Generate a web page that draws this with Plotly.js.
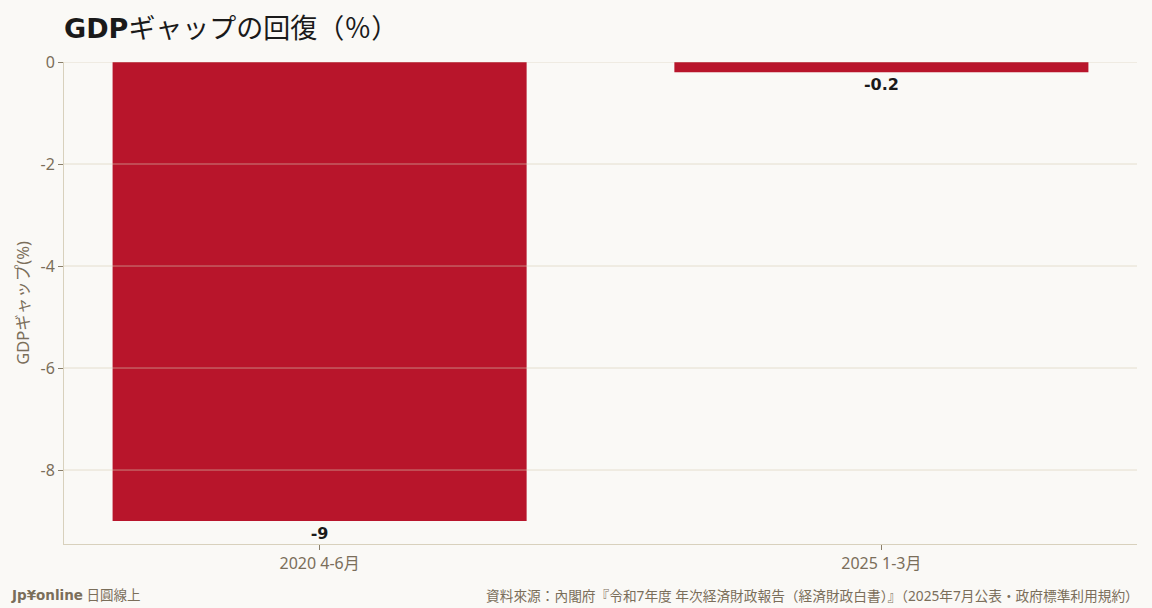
<!DOCTYPE html>
<html>
<head>
<meta charset="utf-8">
<script src="https://cdn.plot.ly/plotly-3.0.1.min.js"></script>
<style>
  html, body { margin: 0; padding: 0; background: #faf9f6; }
  #chart { width: 1152px; height: 608px; }
</style>
</head>
<body>
<div id="chart"></div>
<script>
// data
const periods = ['2020 4-6月', '2025 1-3月'];
const gdpGap = [-9, -0.2];
const yTicks = [0, -2, -4, -6, -8];

const BOLD_FONT = '"DejaVu Sans", "Noto Sans CJK JP", sans-serif';
const FONT = '"Noto Sans", "Noto Sans CJK JP", sans-serif';
const BAR_RED = '#b8152b';
const MUTED = '#7a6e5a';

// gridlines sit on top of the bars in the reference
const gridShapes = yTicks.map(v => ({
	type: 'line', xref: 'paper', yref: 'y',
	x0: 0, x1: 1, y0: v, y1: v,
	layer: 'above',
	line: { color: 'rgba(215,205,180,0.6)', width: 1 }
}));

Plotly.newPlot('chart', [{
	type: 'bar',
	x: periods,
	y: gdpGap,
	marker: { color: BAR_RED },
	text: gdpGap.map(String),
	textposition: 'outside',
	cliponaxis: false,
	textfont: { family: BOLD_FONT, size: 16, color: '#1a1a1a', weight: 'bold' },
	hoverinfo: 'x+y'
}], {
	width: 1152,
	height: 608,
	paper_bgcolor: '#faf9f6',
	plot_bgcolor: '#faf9f6',
	margin: { l: 64, r: 15, t: 62, b: 64 },
	bargap: 0.263,
	showlegend: false,
	font: { family: FONT, color: MUTED },
	title: {
		text: '<b>GDP</b>ギャップの回復（％）',
		font: { family: BOLD_FONT, size: 27, color: '#1a1a1a' },
		x: 64 / 1152, xref: 'container', xanchor: 'left',
		y: 1 - 29 / 608, yref: 'container', yanchor: 'middle'
	},
	xaxis: {
		type: 'category',
		range: [-0.455, 1.455],
		showline: true,
		linecolor: '#d8d1bd',
		ticks: 'outside',
		ticklen: 5,
		tickcolor: '#8a7f6a',
		tickfont: { size: 16, color: MUTED },
		showgrid: false
	},
	yaxis: {
		range: [-9.45, 0],
		tickvals: yTicks,
		ticktext: yTicks.map(String),
		showline: true,
		linecolor: '#d8d1bd',
		ticks: 'outside',
		ticklen: 5,
		tickcolor: '#8a7f6a',
		tickfont: { size: 16, color: MUTED },
		showgrid: false,
		zeroline: false,
		title: { text: 'GDPギャップ(%)', font: { size: 16.5, color: MUTED }, standoff: 6 }
	},
	shapes: gridShapes,
	annotations: [
		{
			text: '<span style="font-family:DejaVu Sans"><b>Jp¥online</b></span> 日圓線上',
			xref: 'paper', yref: 'paper',
			x: -55 / 1073, y: -51 / 482,
			xanchor: 'left', yanchor: 'middle', showarrow: false,
			font: { size: 13.5, color: MUTED }
		},
		{
			text: '資料來源：內閣府『令和7年度 年次経済財政報告（経済財政白書）』（2025年7月公表・政府標準利用規約）',
			xref: 'paper', yref: 'paper',
			x: 1 + 4 / 1073, y: -51 / 482,
			xanchor: 'right', yanchor: 'middle', showarrow: false,
			font: { size: 13.7, color: MUTED }
		}
	]
}, { displayModeBar: false, staticPlot: true });
</script>
</body>
</html>
